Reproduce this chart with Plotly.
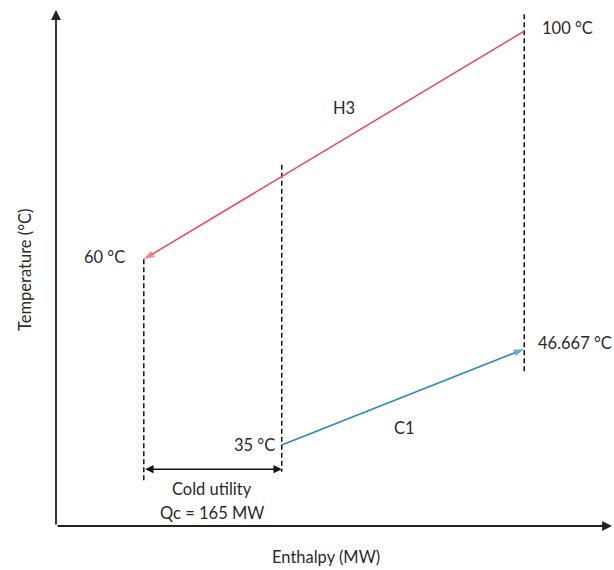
import plotly.graph_objects as go

# ---- schematic data (x: enthalpy in MW, y: schematic temperature level 0-100) ----
h3_enthalpy = [560, 105]          # H3 runs from 100 °C (right) down to 60 °C (left)
h3_level = [95.9, 51.7]
h3_temps = ["100 °C", "60 °C"]

c1_enthalpy = [270, 560]          # C1 runs from 35 °C up to 46.667 °C
c1_level = [15.7, 34.3]
c1_temps = ["35 °C", "46.667 °C"]

cold_utility_mw = 165
cold_utility_start = 105

dash_x = [105, 270, 560]
dash_top = [51.7, 70.0, 99.2]
dash_bottom = [8.5, 10.5, 29.7]

X_MAX, Y_MAX = 665, 100
FONT = "Lato"
TXT = 16.5
RED = "#f04a52"
BLUE = "#2f86c4"
AX = "#222222"
TXT_COLOR = "#2a2a2a"

fig = go.Figure()

# dashed guide lines
for x, y0, y1 in zip(dash_x, dash_top, dash_bottom):
    fig.add_trace(go.Scatter(x=[x, x], y=[y0, y1], mode="lines",
                             line=dict(color="#111111", width=1.5, dash="5px,3px"),
                             hoverinfo="skip", showlegend=False))

# H3 stream
fig.add_trace(go.Scatter(x=h3_enthalpy, y=h3_level, mode="lines+markers",
                         line=dict(color=RED, width=1.6),
                         marker=dict(symbol="arrow", angleref="previous",
                                     size=[0, 11], color=RED,
                                     line=dict(width=0)),
                         hoverinfo="skip", showlegend=False))
# C1 stream
fig.add_trace(go.Scatter(x=c1_enthalpy, y=c1_level, mode="lines+markers",
                         line=dict(color=BLUE, width=1.6),
                         marker=dict(symbol="arrow", angleref="previous",
                                     size=[0, 11], color=BLUE,
                                     line=dict(width=0)),
                         hoverinfo="skip", showlegend=False))

ann = []
# axes drawn as arrows
ann.append(dict(x=0, y=Y_MAX, ax=0, ay=0, xref="x", yref="y", axref="x", ayref="y",
                showarrow=True, arrowhead=2, arrowsize=1.1, arrowwidth=1.8,
                arrowcolor=AX, text=""))
ann.append(dict(x=X_MAX, y=0, ax=0, ay=0, xref="x", yref="y", axref="x", ayref="y",
                showarrow=True, arrowhead=2, arrowsize=1.1, arrowwidth=1.8,
                arrowcolor=AX, text=""))
# cold utility double arrow
ann.append(dict(x=cold_utility_start + cold_utility_mw, y=11.0,
                ax=cold_utility_start, ay=11.0,
                xref="x", yref="y", axref="x", ayref="y",
                showarrow=True, arrowhead=2, startarrowhead=2, arrowside="end+start",
                arrowsize=1.1, arrowwidth=1.5, arrowcolor="#111111", text=""))

def label(x, y, text, xanchor="center", **kw):
    ann.append(dict(x=x, y=y, xref="x", yref="y", text=text, showarrow=False,
                    xanchor=xanchor, yanchor="middle",
                    font=dict(family=FONT, size=TXT, color=TXT_COLOR), **kw))

label(85, 52.1, h3_temps[1], xanchor="right")
label(579, 96.5, h3_temps[0], xanchor="left")
label(264, 15.7, c1_temps[0], xanchor="right")
label(574, 35.5, c1_temps[1], xanchor="left")
label(344, 81.0, "H3")
label(417, 19.0, "C1")
label(186.5, 7.2, "Cold utility")
label(186.5, 2.5, f"Qc = {cold_utility_mw} MW")

ann.append(dict(x=-0.056, y=0.496, xref="paper", yref="paper", text="Temperature (°C)",
                showarrow=False, textangle=-90, xanchor="center", yanchor="middle",
                font=dict(family=FONT, size=TXT, color=TXT_COLOR)))
ann.append(dict(x=0.486, y=-0.060, xref="paper", yref="paper", text="Enthalpy (MW)",
                showarrow=False, xanchor="center", yanchor="middle",
                font=dict(family=FONT, size=TXT, color=TXT_COLOR)))

fig.update_layout(
    width=614, height=570,
    margin=dict(l=56, r=2, t=10, b=44),
    paper_bgcolor="white", plot_bgcolor="white",
    xaxis=dict(range=[0, X_MAX], visible=False, fixedrange=True),
    yaxis=dict(range=[0, Y_MAX], visible=False, fixedrange=True),
    annotations=ann,
    showlegend=False,
)

fig.write_html("out.html", config={"displayModeBar": False})

# remove the browser's default body margin so the figure sits at the page origin
with open("out.html", "r", encoding="utf-8") as f:
    html = f.read()
html = html.replace("<head>", "<head><style>html,body{margin:0;padding:0;overflow:hidden;}</style>", 1)
with open("out.html", "w", encoding="utf-8") as f:
    f.write(html)
